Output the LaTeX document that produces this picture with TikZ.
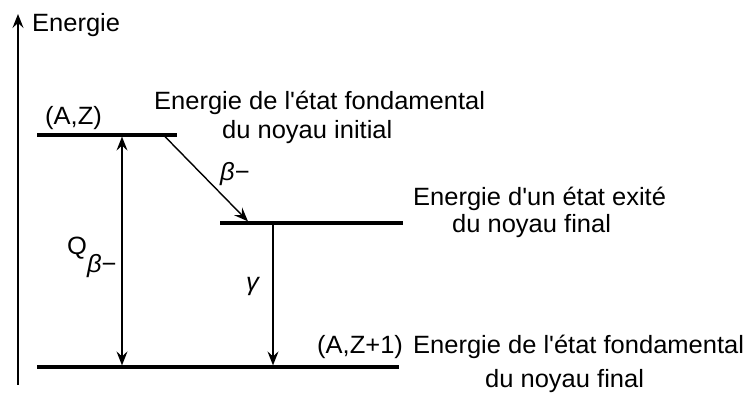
\documentclass[tikz,border=0pt]{standalone}
\usepackage{fontspec}
\setmainfont[FakeStretch=1.02]{Liberation Sans}
\usetikzlibrary{arrows.meta}
\newcommand{\aq}{\textquotesingle}
\begin{document}
\begin{tikzpicture}[x=1pt,y=1pt,
  txt/.style={anchor=base west,inner sep=0pt,font=\fontsize{25}{30}\selectfont},
  level/.style={line width=3.2pt},
  conn/.style={line width=1.4pt,-{Stealth[length=14pt,width=11pt,inset=5pt]}},
  connboth/.style={line width=1.4pt,{Stealth[length=14pt,width=11pt,inset=5pt]}-{Stealth[length=14pt,width=11pt,inset=5pt]}}]
\useasboundingbox (0,0) rectangle (747,396);
% axis
\coordinate (ax0) at (18,11);
\coordinate (ax1) at (18,382);
\draw[conn] (ax0) -- (ax1);
\node[txt] (axlab) at (32,364) {Energie};
% levels
\coordinate (azL) at (37,261);
\coordinate (azR) at (177,261);
\coordinate (exL) at (220,173);
\coordinate (exR) at (403,173);
\coordinate (fL) at (37,29);
\coordinate (fR) at (399,29);
\draw[level] (azL) -- (azR);
\draw[level] (exL) -- (exR);
\draw[level] (fL) -- (fR);
% arrow anchors
\coordinate (qT) at (122,259.4);
\coordinate (qB) at (122,30.6);
\coordinate (bS) at (165,259.4);
\coordinate (bE) at (248,174.6);
\coordinate (gT) at (273,171.4);
\coordinate (gB) at (273,30.6);
\draw[connboth] (qT) -- (qB);
\draw[conn] (bS) -- (bE);
\draw[conn] (gT) -- (gB);
% labels
\node[txt] (azlab) at (45,271) {(A,Z)};
\node[txt] (t1a) at (154,286) {Energie de l\aq état fondamental};
\node[txt] (t1b) at (222,257) {du noyau initial};
\node[txt] (blab) at (220,215) {\textit{β}−};
\node[txt] (t2a) at (413,190) {Energie d\aq un état exité};
\node[txt] (t2b) at (452,163) {du noyau final};
\node[txt] (azplab) at (317,42) {(A,Z+1)};
\node[txt] (t3a) at (413,42) {Energie de l\aq état fondamental};
\node[txt] (t3b) at (485,8) {du noyau final};
\node[txt] (glab) at (246,105) {\textit{γ}};
\node[txt] (qlab) at (67,141) {Q\raisebox{-18pt}{\textit{β}−}};
\end{tikzpicture}
\end{document}
